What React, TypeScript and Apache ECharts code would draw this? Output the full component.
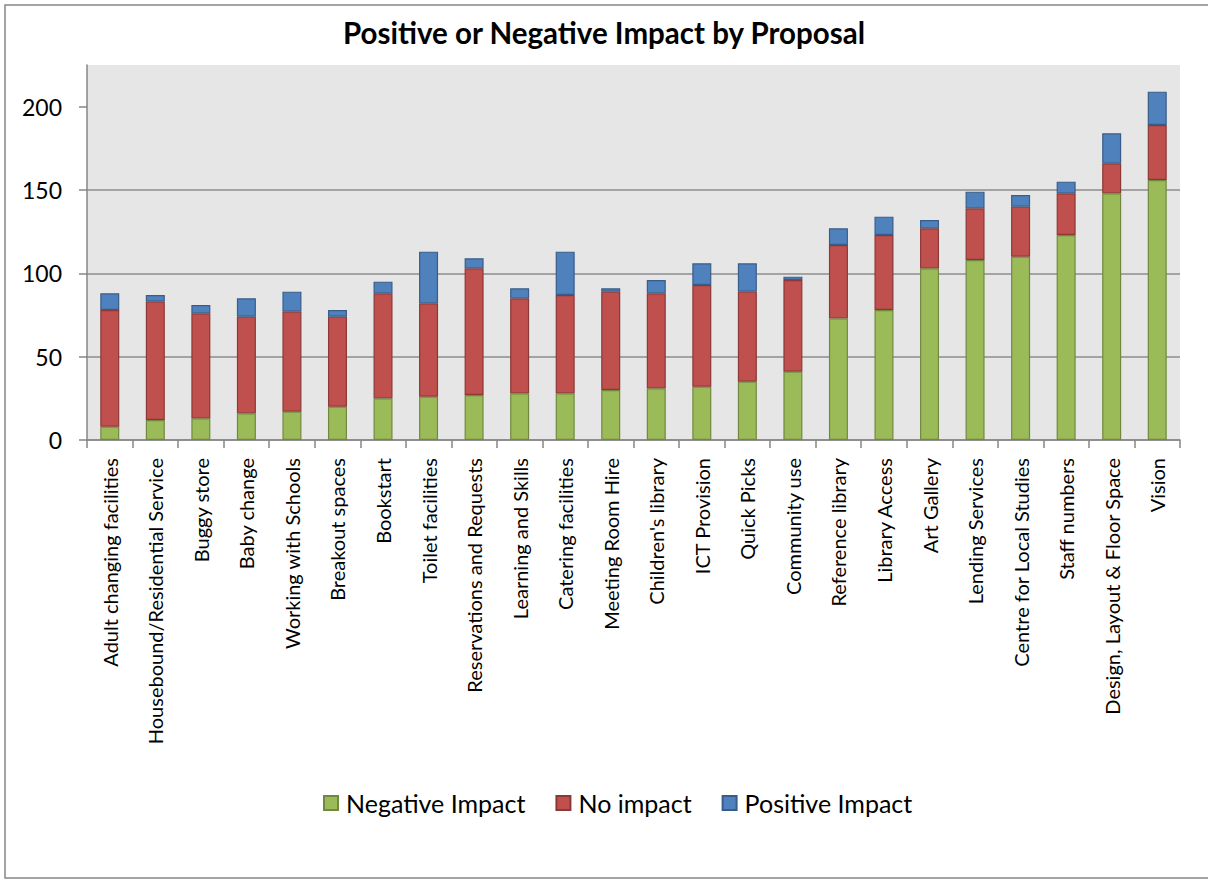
import React, { useEffect, useRef } from "react";
import * as echarts from "echarts";

const categories = [
  "Adult changing facilities",
  "Housebound/Residential Service",
  "Buggy store",
  "Baby change",
  "Working with Schools",
  "Breakout spaces",
  "Bookstart",
  "Toilet facilities",
  "Reservations and Requests",
  "Learning and Skills",
  "Catering facilities",
  "Meeting Room Hire",
  "Children's library",
  "ICT Provision",
  "Quick Picks",
  "Community use",
  "Reference library",
  "Library Access",
  "Art Gallery",
  "Lending Services",
  "Centre for Local Studies",
  "Staff numbers",
  "Design, Layout & Floor Space",
  "Vision",
];

const negativeImpact = [8, 12, 13, 16, 17, 20, 25, 26, 27, 28, 28, 30, 31, 32, 35, 41, 73, 78, 103, 108, 110, 123, 148, 156];
const noImpact = [70, 71, 63, 58, 60, 54, 63, 56, 76, 57, 59, 59, 57, 61, 54, 55, 44, 45, 24, 31, 30, 25, 18, 33];
const positiveImpact = [10, 4, 5, 11, 12, 4, 7, 31, 6, 6, 26, 2, 8, 13, 17, 2, 10, 11, 5, 10, 7, 7, 18, 20];

const yTicks = [0, 50, 100, 150, 200];

const FONT = "Lato, 'Noto Sans', sans-serif";

export default function App() {
  const ref = useRef<HTMLDivElement>(null);

  useEffect(() => {
    if (!ref.current) return;
    const chart = echarts.init(ref.current, undefined, { renderer: "svg" });
    const mk = (name: string, data: number[], color: string, border: string) => ({
      name,
      type: "bar",
      stack: "total",
      data,
      barWidth: 19,
      itemStyle: { color, borderColor: border, borderWidth: 1.2 },
    });
    chart.setOption({
      animation: false,
      backgroundColor: "#ffffff",
      textStyle: { fontFamily: FONT },
      title: {
        text: "Positive or Negative Impact by Proposal",
        left: "center",
        top: 12,
        textStyle: { fontFamily: FONT, fontWeight: "bold", fontSize: 29.5, color: "#000" },
      },
      graphic: [
        {
          type: "rect",
          shape: { x: 5, y: 5, width: 1210, height: 873 },
          style: { fill: "none", stroke: "#868686", lineWidth: 1.5 },
          silent: true,
          z: -10,
        },
      ],
      legend: {
        top: 784,
        left: 318,
        itemWidth: 14,
        itemHeight: 14,
        itemGap: 30,
        icon: "rect",
        textStyle: { fontFamily: FONT, fontSize: 25, color: "#000", lineHeight: 28, padding: [0, 0, 0, 3] },
        data: ["Negative Impact", "No impact", "Positive Impact"],
      },
      grid: {
        left: 87,
        right: 28,
        top: 65,
        bottom: 439,
        show: true,
        backgroundColor: "#E6E6E6",
        borderWidth: 0,
      },
      xAxis: {
        type: "category",
        data: categories,
        axisLine: { lineStyle: { color: "#868686", width: 1.5 } },
        axisTick: { show: true, length: 8, lineStyle: { color: "#868686", width: 1.5 } },
        axisLabel: {
          rotate: 90,
          interval: 0,
          margin: 18,
          fontSize: 20,
          color: "#000",
          fontFamily: FONT,
        },
      },
      yAxis: {
        type: "value",
        min: 0,
        max: 225,
        interval: 50,
        axisLine: { show: true, lineStyle: { color: "#868686", width: 1.5 } },
        axisTick: { show: true, length: 8, customValues: yTicks, lineStyle: { color: "#868686", width: 1.5 } },
        axisLabel: { customValues: yTicks, margin: 25, fontSize: 23, color: "#000", fontFamily: FONT },
        splitLine: { show: true, showMaxLine: false, lineStyle: { color: "#8C8C8C", width: 1.5 } },
      },
      series: [
        mk("Negative Impact", negativeImpact, "#9BBB59", "#71893F"),
        mk("No impact", noImpact, "#C0504D", "#8C3836"),
        mk("Positive Impact", positiveImpact, "#4F81BD", "#385D8A"),
      ],
    });
    return () => chart.dispose();
  }, []);

  return (
    <div
      ref={ref}
      style={{ position: "fixed", left: 0, top: 0, width: 1208, height: 879 }}
    />
  );
}
